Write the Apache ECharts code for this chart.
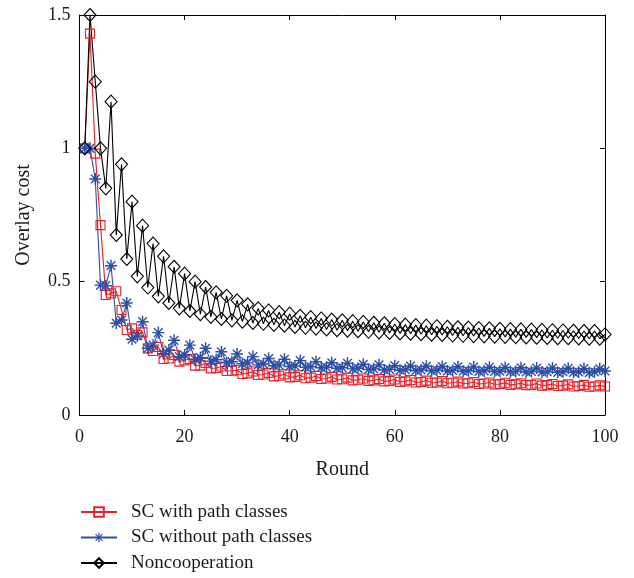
<!DOCTYPE html>
<html>
<head>
<meta charset="utf-8">
<script src="https://cdn.jsdelivr.net/npm/echarts@6/dist/echarts.min.js"></script>
<style>html,body{margin:0;padding:0;background:#fff;}#c{width:634px;height:578px;}</style>
</head>
<body>
<div id="c"></div>
<script>
const rounds = Array.from({length: 100}, (_, i) => i + 1);
const xTicks = [0, 20, 40, 60, 80, 100];
const yTicks = [0, 0.5, 1, 1.5];
const seriesNames = ['SC with path classes', 'SC without path classes', 'Noncooperation'];

const withPath = [
  1.0, 1.43, 0.98, 0.712, 0.45, 0.456, 0.464, 0.394, 0.319, 0.325,
  0.30, 0.31, 0.25, 0.24, 0.255, 0.21, 0.212, 0.225, 0.2, 0.205,
  0.21, 0.185, 0.186, 0.195, 0.175, 0.176, 0.182, 0.165, 0.166, 0.168,
  0.154, 0.156, 0.163, 0.15, 0.152, 0.158, 0.145, 0.147, 0.153, 0.141,
  0.143, 0.149, 0.138, 0.14, 0.146, 0.135, 0.137, 0.143, 0.133, 0.134,
  0.14, 0.13, 0.132, 0.137, 0.128, 0.13, 0.135, 0.126, 0.128, 0.133,
  0.124, 0.126, 0.131, 0.122, 0.124, 0.129, 0.121, 0.122, 0.127, 0.119,
  0.121, 0.125, 0.118, 0.119, 0.124, 0.116, 0.118, 0.122, 0.115, 0.116,
  0.121, 0.113, 0.115, 0.119, 0.112, 0.113, 0.118, 0.11, 0.112, 0.116,
  0.109, 0.11, 0.115, 0.107, 0.109, 0.113, 0.106, 0.107, 0.111, 0.107
];

const withoutPath = [
  1.0, 1.0, 0.885, 0.487, 0.485, 0.56, 0.344, 0.356, 0.42, 0.284,
  0.296, 0.35, 0.25, 0.262, 0.309, 0.23, 0.244, 0.28, 0.219, 0.225,
  0.262, 0.209, 0.215, 0.25, 0.202, 0.207, 0.237, 0.196, 0.2, 0.229,
  0.192, 0.195, 0.219, 0.188, 0.191, 0.212, 0.185, 0.187, 0.209, 0.182,
  0.184, 0.204, 0.179, 0.181, 0.2, 0.177, 0.179, 0.196, 0.175, 0.177,
  0.194, 0.173, 0.175, 0.19, 0.171, 0.173, 0.188, 0.169, 0.171, 0.185,
  0.168, 0.17, 0.184, 0.167, 0.169, 0.183, 0.166, 0.168, 0.182, 0.165,
  0.167, 0.181, 0.164, 0.166, 0.18, 0.163, 0.165, 0.179, 0.163, 0.164,
  0.178, 0.162, 0.163, 0.177, 0.161, 0.163, 0.176, 0.161, 0.162, 0.176,
  0.16, 0.162, 0.175, 0.16, 0.161, 0.174, 0.159, 0.161, 0.173, 0.165
];

const noncoop = [
  1.0, 1.5, 1.25, 1.0, 0.85, 1.175, 0.675, 0.94, 0.585, 0.80,
  0.52, 0.71, 0.478, 0.643, 0.445, 0.595, 0.42, 0.556, 0.40, 0.53,
  0.39, 0.50, 0.378, 0.48, 0.368, 0.46, 0.36, 0.447, 0.355, 0.43,
  0.35, 0.415, 0.345, 0.40, 0.342, 0.392, 0.338, 0.386, 0.335, 0.38,
  0.330, 0.372, 0.327, 0.367, 0.324, 0.362, 0.321, 0.358, 0.318, 0.355,
  0.316, 0.352, 0.314, 0.349, 0.312, 0.346, 0.310, 0.344, 0.308, 0.341,
  0.306, 0.339, 0.305, 0.337, 0.303, 0.335, 0.301, 0.333, 0.300, 0.331,
  0.298, 0.329, 0.297, 0.328, 0.296, 0.326, 0.295, 0.325, 0.294, 0.323,
  0.293, 0.322, 0.292, 0.321, 0.291, 0.320, 0.290, 0.319, 0.289, 0.318,
  0.288, 0.317, 0.288, 0.316, 0.287, 0.315, 0.286, 0.315, 0.286, 0.302
];

const asterisk = 'path://M0 44L100 44L100 56L0 56Z M44 0L56 0L56 100L44 100Z M18.3 10L90 81.7L81.7 90L10 18.3Z M90 18.3L18.3 90L10 81.7L81.7 10Z';

const FONT = 'Liberation Serif';
const pairs = (arr) => rounds.map((r, i) => [r, arr[i]]);

const chart = echarts.init(document.getElementById('c'), null, {renderer: 'canvas'});
const axisCommon = {
  axisLine: {show: true, onZero: false, lineStyle: {color: '#000', width: 1}},
  axisTick: {show: true, inside: true, length: 5, lineStyle: {color: '#000'}},
  splitLine: {show: false}
};
chart.setOption({
  animation: false,
  backgroundColor: '#fff',
  textStyle: {fontFamily: FONT},
  grid: {left: 79.5, right: 29, top: 15, bottom: 163, containLabel: false},
  legend: {
    orient: 'vertical', left: 80, top: 502.5, padding: 0, itemWidth: 36, itemHeight: 12, itemGap: 6.5,
    data: seriesNames,
    textStyle: {fontFamily: FONT, fontSize: 19, color: '#1a1a1a', padding: [0, 0, 0, 9]}
  },
  xAxis: [
    Object.assign({
      type: 'value', min: 0, max: 100, interval: 20, position: 'bottom',
      name: 'Round', nameLocation: 'middle', nameGap: 45,
      nameTextStyle: {fontFamily: FONT, fontSize: 20, color: '#1a1a1a'},
      axisLabel: {fontFamily: FONT, fontSize: 18, color: '#1a1a1a', margin: 13}
    }, axisCommon),
    Object.assign({
      type: 'value', min: 0, max: 100, interval: 20, position: 'top',
      axisLabel: {show: false}
    }, axisCommon)
  ],
  yAxis: [
    Object.assign({
      type: 'value', min: 0, max: 1.5, interval: 0.5, position: 'left',
      name: 'Overlay cost', nameLocation: 'middle', nameGap: 46, nameRotate: 90,
      nameTextStyle: {fontFamily: FONT, fontSize: 20, color: '#1a1a1a'},
      axisLabel: {fontFamily: FONT, fontSize: 18, color: '#1a1a1a', margin: 9}
    }, axisCommon),
    Object.assign({
      type: 'value', min: 0, max: 1.5, interval: 0.5, position: 'right',
      axisLabel: {show: false}
    }, axisCommon)
  ],
  series: [
    {
      name: seriesNames[0], type: 'line', data: pairs(withPath), clip: false,
      symbol: 'rect', symbolSize: 9, showAllSymbol: true,
      lineStyle: {color: '#ee1c24', width: 1.1},
      itemStyle: {color: 'rgba(255,255,255,0)', borderColor: '#ee1c24', borderWidth: 1.1}
    },
    {
      name: seriesNames[1], type: 'line', data: pairs(withoutPath), clip: false,
      symbol: asterisk, symbolSize: 12, showAllSymbol: true,
      lineStyle: {color: '#2b4ea6', width: 1.1},
      itemStyle: {color: '#2b4ea6', borderWidth: 0}
    },
    {
      name: seriesNames[2], type: 'line', data: pairs(noncoop), clip: false,
      symbol: 'diamond', symbolSize: [12, 13], showAllSymbol: true,
      lineStyle: {color: '#000', width: 1.1},
      itemStyle: {color: 'rgba(255,255,255,0)', borderColor: '#000', borderWidth: 1.1}
    }
  ]
});
</script>
</body>
</html>
